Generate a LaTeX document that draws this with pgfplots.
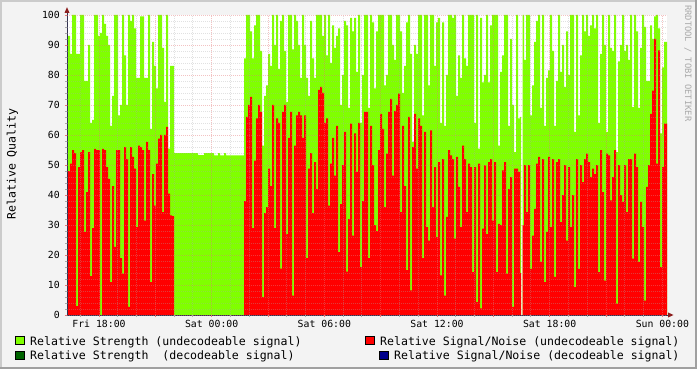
\documentclass[border=0pt]{standalone}
\usepackage{fontspec}
\setmainfont{DejaVu Sans Mono}
\setmonofont{DejaVu Sans Mono}
\usepackage{pgfplots}
\usepackage{pgfplotstable}
\pgfplotsset{compat=1.18}
\definecolor{bgc}{RGB}{243,243,243}
\definecolor{shadea}{RGB}{203,203,203}
\definecolor{shadeb}{RGB}{160,160,160}
\definecolor{lgreen}{RGB}{128,255,0}
\definecolor{dgreen}{RGB}{0,100,0}
\definecolor{nred}{RGB}{255,0,0}
\definecolor{navy}{RGB}{0,0,140}
\definecolor{gridmaj}{RGB}{230,120,120}
\definecolor{gridmin}{RGB}{170,170,170}
\definecolor{axisc}{RGB}{50,50,80}
\definecolor{arrowc}{RGB}{140,30,30}
\definecolor{wmark}{RGB}{170,170,170}

\pgfplotstableread{
x g r
0 85.5 35
1 93 48
3 87 50.5
5 100 55
7 100 54
9 87 3
11 87 49.3
13 100 54.3
15 100 55
17 78 27.7
19 78 41
21 90 54.3
23 64 13
25 65 29
27 100 55.4
29 100 55
31 93 55
33 94 0
35 100 55.4
37 97 55
39 93 49.3
41 90 45.4
43 63 11
45 73 43
47 100 22.7
49 100 55
51 66.5 55
53 70 19
55 100 13.8
57 86.5 56
59 70 52
61 100 2.7
63 98 56
65 100 52.7
67 95.5 48.8
69 79 29.3
71 79 56.5
73 99.5 56
75 99.5 55
77 79 31.5
79 79 57.7
81 100 55
83 62 11
85 91 47
87 83 36.5
89 75.5 50.5
91 100 58.8
93 100 60
95 89 34.3
97 71 60
99 100 62.7
101 55.5 40.5
103 83 33.2
105 83 33
107 54 0
131 53.3 0
137 54 0
147 53.2 0
151 54 0
153 53.2 0
157 54 0
159 53.2 0
177 85.5 38
179 100 66
181 100 70
183 94.5 72.7
185 85.5 29
187 96.5 51.5
189 100 65.5
191 100 70
193 88 67.7
195 56.5 6
197 73 34
199 76.5 36
201 87 48.8
203 83 43
205 100 70
207 90 29
209 100 65.5
211 82 64
213 98 15.5
215 100 67.7
217 88 70
219 71 27
221 100 59
223 100 67.7
225 88.5 6.5
227 100 56.5
229 98 66.5
231 90 67.7
233 79 66.5
235 100 59
237 90 66.5
239 79 19
241 73 48.8
243 98 54
245 85.5 34
247 79 51
249 100 42
251 100 75
253 100 76
255 93 74
257 100 64
259 86.5 65.5
261 100 36.5
263 84 50.5
265 96.5 59
267 89 46.5
269 93 63
271 95.5 21
273 70 37
275 80 50
277 98 61
279 96.5 14.5
281 69 32
283 99 63.8
285 94.5 26.5
287 99 60.5
289 81 47.7
291 100 64
293 64 16
295 80 38
297 100 67.7
299 100 67.7
301 69 19
303 100 63
305 97.5 50
307 75.5 30
309 94.5 28
311 100 55
313 100 67
315 100 62
317 76.5 36
319 80 53.8
321 100 67.7
323 100 72
325 90 46.5
327 85 68
329 100 70
331 100 73.8
333 94.5 34.3
335 74 63
337 83 43
339 97.5 15
341 100 66
343 87 8.2
345 57.7 56
347 90 67
349 87 48.8
351 100 65.5
353 100 63
355 66.5 19
357 100 61
359 100 29.3
361 76.5 24.8
363 100 61.5
365 100 36
367 83 49.3
369 97.5 26
371 99 51
373 64 13.2
375 97.5 52
377 63 6.5
379 80 32.7
381 100 55
383 100 53.2
385 99 52
387 100 25.5
389 73 52.7
391 86.5 42.7
393 79 29.3
395 100 56.5
397 85.5 52
399 83 34.3
401 100 50.5
403 100 49.3
405 100 14.3
407 64 49.3
409 100 4.3
411 55.5 50.5
413 99 2.2
415 77.5 28.8
417 80 49.9
419 100 27
421 77.5 51
423 96.5 52
425 100 31.5
427 100 51
429 100 14.3
431 56.5 30.4
433 81 30
435 86.5 48.2
437 100 51
439 100 13.8
441 63 42
443 92 46
445 70 2.7
447 54.3 48.8
449 100 48.8
451 65.5 47.7
453 66 14
454 0 0
455.5 100 30
457 85 50
459 100 34.3
461 100 50
463 66.5 15.4
465 76.5 26.5
467 91 35.4
469 98 50.5
471 100 52.7
473 69 17.7
475 100 52
477 63 11
479 79 27.7
481 81.5 52.7
483 100 29.3
485 88 52
487 63 12.7
489 78 51
491 100 52
493 81 31
495 90 40
497 76 50
499 94.5 24.8
501 80 49.3
503 100 29.3
505 100 40
507 61 9.3
509 100 52
511 66.5 15.4
513 86.5 50
515 100 44.3
517 94.5 52
519 100 53.8
521 93 51
523 96.5 46
525 100 48.8
527 95.5 47
529 100 50
531 64 14.3
533 87 55
535 100 41
537 90 11.5
539 61 53.8
541 100 53.2
543 89 38.2
545 88 46
547 100 55
549 54.3 3.8
551 84.5 50
553 90 40
555 100 37.7
557 88 50
559 90 34.3
561 85 52
563 100 52
565 69.3 18.8
567 100 53.8
569 94.5 49.3
571 69 17.7
573 89 37.7
575 100 29.3
577 96 4.8
579 78 42.7
581 78 50
583 96.5 67
585 92 74.8
587 99.5 92
589 100 50.5
591 95.5 88.2
593 60.5 16
595 82.5 49.3
597 91 63.8
600 91 63.8
}\qual

\begin{document}
\begin{tikzpicture}[x=1bp,y=1bp]
\fill[bgc] (0,0) rectangle (697,369);
\fill[shadea] (0,367) rectangle (697,369);
\fill[shadea] (0,0) rectangle (2,369);
\fill[shadeb] (0,0) rectangle (697,2);
\fill[shadeb] (695,0) rectangle (697,369);
\fill[white] (67,54) rectangle (667,354);
\begin{axis}[
  at={(67bp,54bp)}, anchor=south west,
  scale only axis, width=600bp, height=300bp,
  xmin=0, xmax=600, ymin=0, ymax=100,
  clip=false, axis on top,
  axis line style={draw=none},
  xtick={32,88.33,144.66,201,257.33,313.66,370,426.33,482.66,539,595.33},
  xticklabels={Fri 18:00,,Sat 00:00,,Sat 06:00,,Sat 12:00,,Sat 18:00,,Sun 00:00},
  minor xtick={13.22,50.78,69.55,107.11,125.89,163.44,182.22,219.77,238.55,276.1,294.88,332.44,351.22,388.77,407.55,445.1,463.88,501.44,520.22,557.77,576.55},
  ytick={0,10,...,100},
  minor y tick num=4,
  grid=both,
  major grid style={draw=gridmaj, draw opacity=0.45, dash pattern=on 1bp off 1bp, line width=0.8bp},
  minor grid style={draw=gridmin, draw opacity=0.35, dash pattern=on 1bp off 1bp, line width=0.8bp},
  xtick pos=left, ytick pos=left,
  tick align=outside,
  major tick length=2bp, minor tick length=2bp,
  every major tick/.append style={gridmaj, line width=0.8bp},
  every minor tick/.append style={gridmin, line width=0.8bp},
  ticklabel style={font=\fontsize{9.85}{11}\selectfont, text=black},
  /pgf/number format/assume math mode=true,
  xticklabel style={inner sep=0pt, anchor=base, yshift=-10.7bp},
  yticklabel style={inner sep=0pt, anchor=east, xshift=-5bp},
]
\addplot[const plot, fill=lgreen, draw=none] table[x=x,y=g]{\qual} \closedcycle;
\addplot[const plot, fill=nred, draw=none] table[x=x,y=r]{\qual} \closedcycle;
\draw[axisc, line width=1bp] (axis cs:0,0) -- (axis cs:601,0);
\draw[axisc, line width=1bp] (axis cs:0,0) -- (axis cs:0,100.7);
\fill[arrowc] (axis cs:601,0.85) -- (axis cs:606.5,0) -- (axis cs:601,-0.85) -- cycle;
\fill[arrowc] (axis cs:-2.5,100.7) -- (axis cs:0,102.6) -- (axis cs:2.5,100.7) -- cycle;
\end{axis}
% y label
\node[rotate=90, anchor=base, inner sep=0pt, font=\fontsize{11.6}{13}\selectfont] at (15.5,205) {Relative Quality};
% watermark
\node[rotate=-90, anchor=base west, inner sep=0pt, text=wmark, font=\fontsize{8.8}{10}\selectfont] at (685,364) {RRDTOOL / TOBI OETIKER};
% legend
\begin{scope}[font=\fontsize{11.6}{13}\selectfont]
\filldraw[fill=lgreen, draw=black, line width=0.9bp] (15.5,24.2) rectangle (24,32.7);
\node[anchor=base west, inner sep=0pt] at (30,23.7) {Relative Strength (undecodeable signal)};
\filldraw[fill=nred, draw=black, line width=0.9bp] (365.5,24.2) rectangle (374,32.7);
\node[anchor=base west, inner sep=0pt] at (380,23.7) {Relative Signal/Noise (undecodeable signal)};
\filldraw[fill=dgreen, draw=black, line width=0.9bp] (15.5,9.5) rectangle (24,18);
\node[anchor=base west, inner sep=0pt] at (30,9.5) {Relative Strength~~(decodeable signal)};
\filldraw[fill=navy, draw=black, line width=0.9bp] (379.5,9.5) rectangle (388,18);
\node[anchor=base west, inner sep=0pt] at (394,9.5) {Relative Signal/Noise (decodeable signal)};
\end{scope}
\end{tikzpicture}
\end{document}
